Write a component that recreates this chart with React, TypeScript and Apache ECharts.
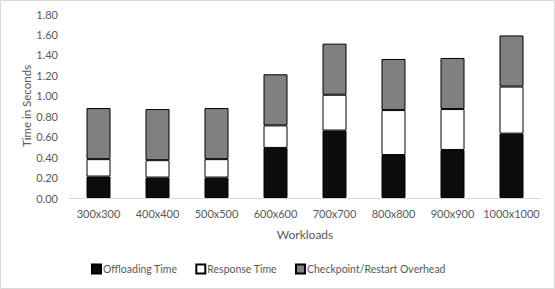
import React, { useEffect, useRef } from "react";
import * as echarts from "echarts";

const categories = ["300x300", "400x400", "500x500", "600x600", "700x700", "800x800", "900x900", "1000x1000"];
const offloading = [0.21, 0.2, 0.2, 0.49, 0.66, 0.42, 0.47, 0.63];
const response = [0.17, 0.17, 0.18, 0.22, 0.35, 0.44, 0.4, 0.46];
const checkpoint = [0.5, 0.5, 0.5, 0.5, 0.5, 0.5, 0.5, 0.5];
const seriesNames = ["Offloading Time", "Response Time", "Checkpoint/Restart Overhead"];

const FONT = "Lato, 'Open Sans', sans-serif";
const TXT = "#595959";

export default function App() {
  const ref = useRef<HTMLDivElement>(null);
  useEffect(() => {
    const chart = echarts.init(ref.current!, null, { renderer: "svg" });
    const mk = (name: string, data: number[], color: string) => ({
      name,
      type: "bar",
      stack: "t",
      data,
      barWidth: 24,
      itemStyle: { color, borderColor: "#000", borderWidth: 1 },
    });
    chart.setOption({
      animation: false,
      textStyle: { fontFamily: FONT },
      graphic: [
        {
          type: "rect",
          shape: { x: 0.5, y: 0.5, width: 554, height: 288 },
          style: { fill: "none", stroke: "#d9d9d9", lineWidth: 1 },
        },
      ],
      grid: { left: 69, right: 14, top: 14, bottom: 91 },
      legend: {
        data: seriesNames,
        top: 258.5,
        left: 86,
        itemWidth: 9,
        itemHeight: 9,
        itemGap: 18,
        icon: "rect",
        textStyle: { color: TXT, fontSize: 10.5, fontFamily: FONT, padding: [0, 0, 0, -3] },
      },
      xAxis: {
        type: "category",
        data: categories,
        name: "Workloads",
        nameLocation: "middle",
        nameGap: 30,
        nameMoveOverlap: false,
        nameTextStyle: { color: TXT, fontSize: 12, fontFamily: FONT },
        axisLine: { lineStyle: { color: "#d9d9d9" } },
        axisTick: { show: false },
        axisLabel: { color: TXT, fontSize: 11, fontFamily: FONT, margin: 10, interval: 0 },
      },
      yAxis: {
        type: "value",
        min: 0,
        max: 1.8,
        interval: 0.2,
        name: "Time in Seconds",
        nameLocation: "middle",
        nameGap: 37,
        nameMoveOverlap: false,
        nameTextStyle: { color: TXT, fontSize: 11.5, fontFamily: FONT },
        axisLine: { show: false },
        axisTick: { show: false },
        splitLine: { show: false },
        axisLabel: {
          color: TXT,
          fontSize: 11,
          fontFamily: FONT,
          margin: 11,
          formatter: (v: number) => v.toFixed(2),
        },
      },
      series: [
        mk(seriesNames[0], offloading, "#0d0d0d"),
        mk(seriesNames[1], response, "#ffffff"),
        mk(seriesNames[2], checkpoint, "#808080"),
      ],
    });
    return () => chart.dispose();
  }, []);
  return (
    <div
      ref={ref}
      style={{ position: "fixed", left: 0, top: 0, width: 555, height: 289, background: "#fff" }}
    />
  );
}
